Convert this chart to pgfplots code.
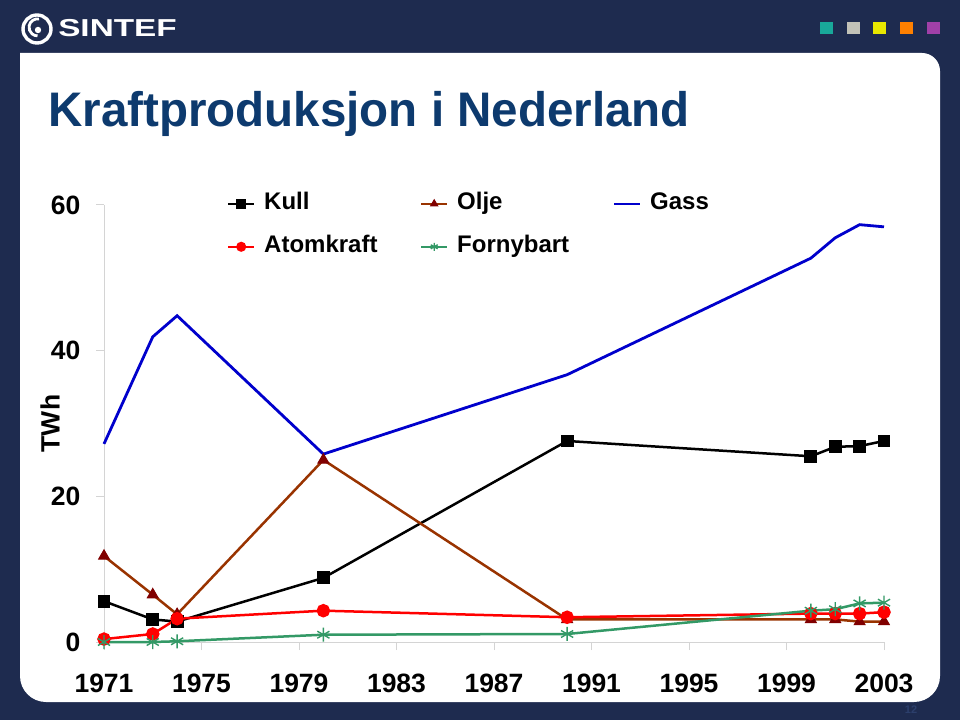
\documentclass[border=0pt]{standalone}
\usepackage{fontspec}
\setmainfont{Liberation Sans}
\usepackage{pgfplots}
\pgfplotsset{compat=1.18}

\definecolor{frame}{HTML}{1E2B4F}
\definecolor{titleblue}{HTML}{0D3A6E}
\definecolor{olje}{HTML}{993300}
\definecolor{oljemark}{HTML}{800000}
\definecolor{gass}{HTML}{0000CC}
\definecolor{fornybart}{HTML}{339966}
\definecolor{axisgray}{HTML}{D4D4D4}
\definecolor{sqteal}{HTML}{19A89A}
\definecolor{sqgray}{HTML}{C2C2B8}
\definecolor{sqyellow}{HTML}{E8E800}
\definecolor{sqorange}{HTML}{FF8000}
\definecolor{sqpurple}{HTML}{A040A8}
\definecolor{pagenum}{HTML}{2C3F6C}

\begin{document}
\begin{tikzpicture}[x=1pt,y=1pt]
\useasboundingbox (0,0) rectangle (960,720);
% slide background
\fill[frame] (0,0) rectangle (960,720);
\fill[white] (20,667) [rounded corners=18pt] -- (940,667) [rounded corners=26pt] -- (940,18) -- (20,18) [sharp corners] -- (20,667) -- cycle;
% logo
\draw[white, line width=3.4pt] (37,691) circle (14);
\draw[white, line width=2.8pt] (39,701) arc (80:270:8.5);
\fill[white] (38,690) circle (3.2);
\node[anchor=base west, inner sep=0pt, text=white, xscale=1.36] at (58,683) {\bfseries\fontsize{24.5}{24.5}\selectfont SINTEF};
% colour squares
\fill[sqteal] (820,686) rectangle (833,698);
\fill[sqgray] (847,686) rectangle (860,698);
\fill[sqyellow] (873,686) rectangle (886,698);
\fill[sqorange] (900,686) rectangle (913,698);
\fill[sqpurple] (927,686) rectangle (940,698);
% title
\node[anchor=base west, inner sep=0pt, text=titleblue, xscale=0.98] at (48,593) {\bfseries\fontsize{48.5}{48.5}\selectfont Kraftproduksjon i Nederland};
% page number
\node[anchor=base, inner sep=0pt, text=pagenum] at (911,7) {\bfseries\fontsize{11}{11}\selectfont 12};

\begin{axis}[
    at={(104pt,78pt)}, anchor=south west,
    scale only axis, width=780pt, height=437pt,
    xmin=1971, xmax=2003, ymin=0, ymax=60,
    clip=false,
    axis lines=left,
    axis line style={draw=axisgray, line width=1pt, -},
    xtick={1971,1975,...,2003},
    ytick={0,20,40,60},
    tick align=outside,
    major tick length=8pt,
    tick style={draw=axisgray, line width=1pt},
    /pgf/number format/1000 sep={},
    /pgf/number format/assume math mode=true,
    tick label style={font=\bfseries\fontsize{26.5}{26.5}\selectfont},
    xticklabel style={anchor=center, yshift=-33pt},
    yticklabel style={anchor=east, xshift=-12pt},
    ylabel={TWh},
    ylabel style={at={(axis description cs:-0.0692,0.5)}, anchor=center, font=\bfseries\fontsize{26.5}{26.5}\selectfont},
    legend columns=3,
    legend style={
        at={(axis description cs:0.1577,1.033)}, anchor=north west,
        draw=none, fill=none, inner sep=0pt,
        font=\bfseries\fontsize{24}{24}\selectfont,
        nodes={text width=146pt, inner sep=2pt, text height=17pt, text depth=5pt},
        /tikz/every odd column/.append style={column sep=7pt},
        /tikz/every even column/.append style={column sep=8pt},
        row sep=17pt,
    },
    legend image code/.code={\draw[mark repeat=2, mark phase=2, #1, line width=2pt, mark size=4pt] plot coordinates {(0pt,0pt) (13pt,0pt) (26pt,0pt)};},
]
\addplot[black, line width=2.5pt, mark=square*, mark size=5.2pt] coordinates {
    (1971,5.6) (1973,3.1) (1974,2.8) (1980,8.8) (1990,27.6) (2000,25.5) (2001,26.8) (2002,26.9) (2003,27.6)};
\addlegendentry{Kull}
\addplot[olje, line width=2.5pt, mark=triangle*, mark size=6.2pt, mark options={fill=oljemark, draw=oljemark, line width=1pt}] coordinates {
    (1971,11.8) (1973,6.5) (1974,3.8) (1980,25.0) (1990,3.1) (2000,3.1) (2001,3.1) (2002,2.8) (2003,2.8)};
\addlegendentry{Olje}
\addplot[gass, line width=2.8pt] coordinates {
    (1971,27.2) (1973,41.9) (1974,44.8) (1980,25.8) (1990,36.7) (2000,52.7) (2001,55.5) (2002,57.3) (2003,57.0)};
\addlegendentry{Gass}
\addplot[red, line width=2.5pt, mark=*, mark size=5.5pt] coordinates {
    (1971,0.4) (1973,1.1) (1974,3.2) (1980,4.3) (1990,3.4) (2000,3.9) (2001,3.9) (2002,3.9) (2003,4.1)};
\addlegendentry{Atomkraft}
\addplot[fornybart, line width=2.5pt, mark=asterisk, mark size=7pt, mark options={line width=1.4pt}] coordinates {
    (1971,0) (1973,0) (1974,0.1) (1980,1.0) (1990,1.1) (2000,4.3) (2001,4.5) (2002,5.3) (2003,5.4)};
\addlegendentry{Fornybart}
\end{axis}
\end{tikzpicture}
\end{document}
